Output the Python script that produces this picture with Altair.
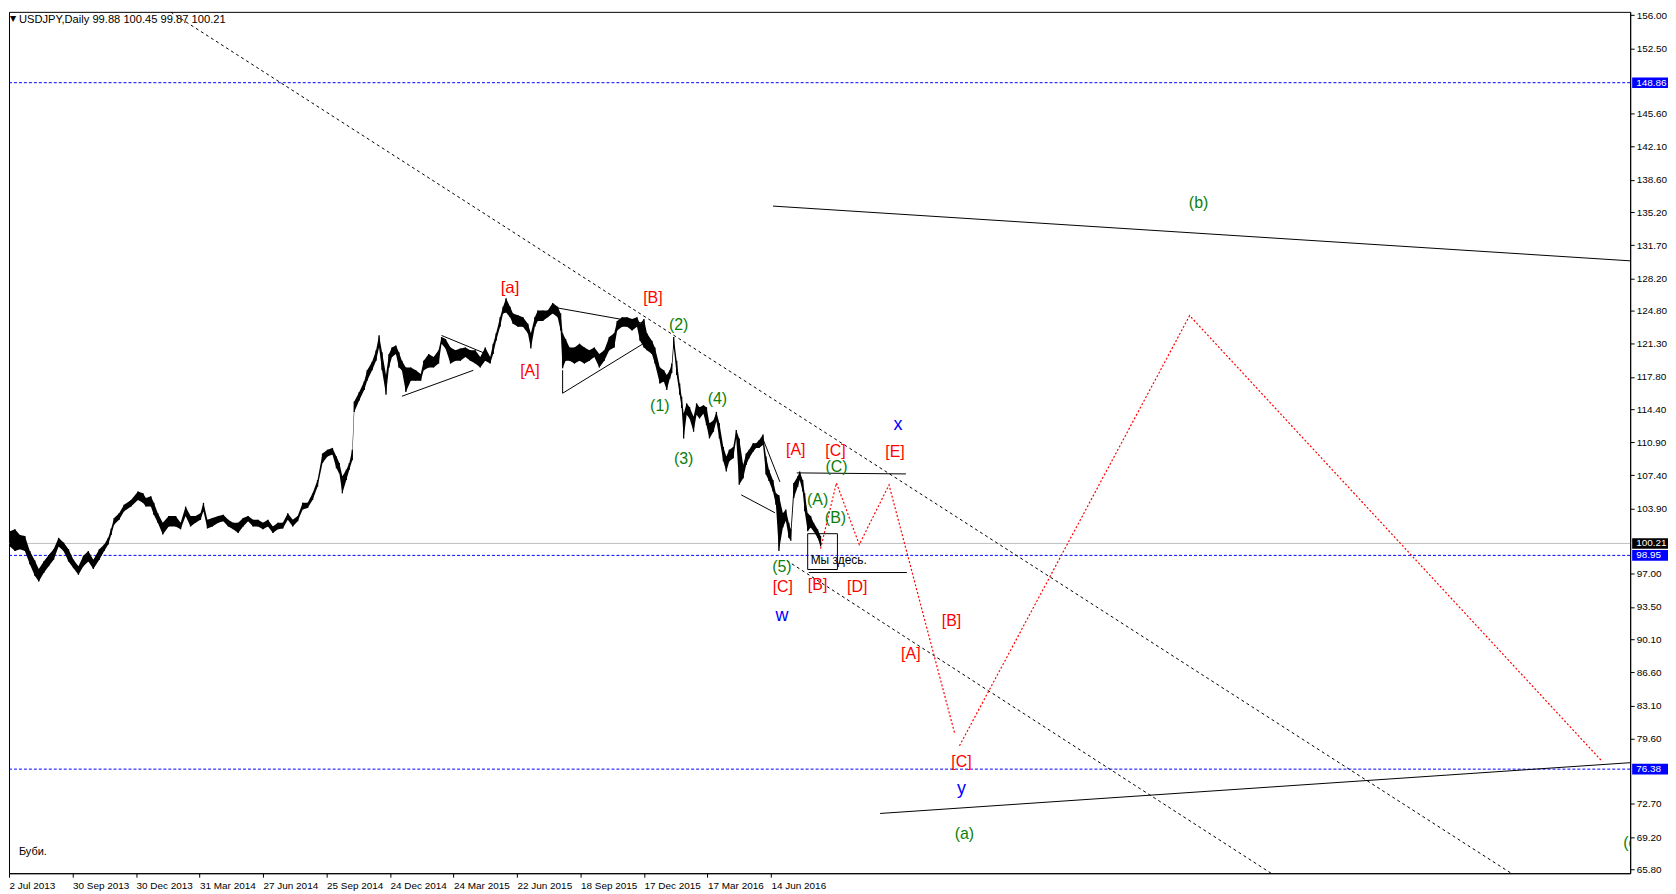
import altair as alt
import pandas as pd

# ---------------- price series (sampled daily bars: bar index, high, low) -------------
s1_idx = [1,6,11,16,21,26,30,35,40,45,50,55,60,65,70,75,80,85,91,96,100,103,106,111,116,123,130,135,138,143,
          146,150,155,161,168,173,178,183,188,193,196,200,205,211,216,221,226,231,236,241,246,251,256,261,266,
          271,276,281,286,291,296,301,306,311,316,321,326,330,333,336,340,343,346]
s1_hi = [101.5,101.7,101.1,101.0,99.4,98.4,97.5,98.3,99.0,99.6,100.8,100.3,99.6,98.5,97.8,98.9,99.4,98.5,99.6,100.1,
         100.8,101.8,102.9,103.4,104.3,104.8,105.7,105.5,105.0,105.2,104.5,103.4,102.4,103.1,103.1,102.4,104.1,103.1,103.1,103.4,
         104.5,102.7,102.9,103.1,103.25,102.7,102.4,102.4,102.9,103.1,102.7,102.7,102.4,102.7,102.0,102.4,102.4,103.4,102.7,103.1,
         104.5,104.5,105.5,106.9,109.7,110.1,110.3,109.4,108.7,107.3,108.0,108.7,110.1]
s1_lo = [99.9,99.4,99.6,99.4,98.0,96.8,96.2,97.1,97.8,98.5,99.9,99.4,98.3,97.6,96.9,97.8,98.3,97.5,98.5,99.4,
         100.1,101.1,102.2,102.7,103.6,104.1,104.8,104.5,104.1,104.1,103.25,102.4,101.15,102.0,102.0,101.7,103.1,102.0,102.4,102.7,
         103.6,101.8,102.0,102.4,102.55,102.0,101.7,101.3,102.0,102.55,102.0,102.0,101.7,102.0,101.3,101.7,101.8,102.7,102.0,102.55,
         103.8,103.95,104.8,106.2,108.7,109.4,109.6,108.15,107.6,105.5,106.9,108.0,109.0]

s2_idx = [348,353,358,361,366,370,373,376,380,383,386,390,393,396,400,405,410,415,418,423,
          428,433,436,440,445,450,455,460,465,470,475,480,485,488,491,495,498,501,505,508,
          513,518,523,526,530,533,538,543,548,553,556,558,561,565,570,575,580,585,590,595,
          600,605,610,613,618,623,628,633,636,640,643,648,651,656]
s2_hi = [115.2,116.2,117.3,118.5,119.4,120.6,122.2,120.4,118.0,120.2,120.9,121.1,120.4,119.5,118.8,118.8,118.5,118.1,119.5,120.2,
         119.9,120.6,122.0,121.8,120.9,120.6,120.8,120.9,120.6,120.6,119.9,120.9,119.9,121.3,122.4,124.1,125.2,126.1,125.2,124.5,
         124.3,124.1,123.4,122.4,124.1,124.8,124.8,124.8,125.6,125.2,124.5,122.4,121.8,120.9,120.9,121.3,120.9,120.6,120.9,120.2,
         120.6,122.0,122.4,123.7,124.1,124.1,123.9,124.1,123.4,123.9,122.4,121.6,120.9,118.8]
s2_lo = [114.1,115.3,116.4,117.4,118.5,119.5,120.9,118.5,115.9,118.8,119.9,120.2,118.8,118.5,116.2,117.4,117.4,117.4,118.5,118.8,
         118.8,119.2,121.3,120.8,119.2,119.5,119.5,119.9,119.5,119.2,118.8,119.5,119.2,120.2,121.6,123.1,124.5,124.6,124.1,123.4,
         123.1,123.1,122.4,120.8,123.1,123.7,123.7,124.1,124.5,124.1,122.7,118.7,119.5,119.5,119.2,119.5,119.2,119.5,119.9,118.8,
         119.5,120.6,120.9,122.7,123.1,123.1,122.7,123.1,121.6,120.9,120.6,120.2,119.2,117.1]

s3_idx = [660,663,666,668,670,673,676,678,680,683,686,690,693,696,700,703,706,710,713,716,
          720,723,726,730,733,736,740,743,746,750,753,756,760,763,766,770,773,776,780,783,
          786,788,791,795,797,800,802,805,808,811,815,818]
s3_hi = [118.5,118.0,118.5,119.2,122.0,119.5,117.1,115.7,113.9,115.0,114.6,113.6,115.0,114.6,114.8,114.6,112.9,113.2,114.1,112.9,
         110.4,109.4,110.1,110.4,112.2,111.3,108.5,109.7,110.1,110.8,110.8,111.1,111.7,109.4,108.0,106.9,105.5,105.3,103.4,103.8,
         102.4,101.7,106.6,107.3,107.8,106.9,105.5,103.4,103.1,102.4,101.7,101.0]
s3_lo = [117.3,116.4,117.6,118.2,120.9,118.0,115.9,114.5,111.3,113.8,113.4,112.0,113.8,113.4,113.9,112.7,111.3,112.0,113.1,111.3,
         108.9,107.8,108.9,109.2,111.3,106.4,107.1,108.5,109.2,109.9,110.3,110.3,110.6,107.5,106.8,105.7,104.3,99.4,101.9,102.6,
         100.8,100.5,105.0,106.2,106.9,105.7,103.6,101.5,101.9,101.5,100.8,99.9]

# ---------------- axes ----------------
x_tick_pos = [0, 64, 128, 192, 256, 320, 384, 448, 512, 576, 640, 704, 768]
x_tick_labels = ["2 Jul 2013", "30 Sep 2013", "30 Dec 2013", "31 Mar 2014", "27 Jun 2014", "25 Sep 2014",
                 "24 Dec 2014", "24 Mar 2015", "22 Jun 2015", "18 Sep 2015", "17 Dec 2015", "17 Mar 2016", "14 Jun 2016"]
y_ticks = [156.00, 152.50, 145.60, 142.10, 138.60, 135.20, 131.70, 128.20, 124.80, 121.30, 117.80, 114.40,
           110.90, 107.40, 103.90, 97.00, 93.50, 90.10, 86.60, 83.10, 79.60, 72.70, 69.20, 65.80]

# horizontal levels
blue_levels = [148.86, 98.95, 76.38]
bid_level = [100.21]
hl_vals = [148.86, 100.21, 98.95, 76.38]
hl_bg = ["#0000ff", "#000000", "#0000ff", "#0000ff"]

# ---------------- drawn lines (bar index, price) ----------------
dotted_lines = {
    "chan_top": ([158, 1514], [156.65, 65.39]),
    "chan_low": ([784, 1272], [98.40, 65.39]),
}
solid_lines = {
    "b_line": ([770, 1634], [135.83, 130.05]),
    "a_line": ([878, 1634], [71.70, 77.06]),
    "x_top": ([794, 904], [107.66, 107.55]),
    "x_bot": ([806, 905], [97.14, 97.14]),
    "t1_low": ([396, 468], [115.75, 118.49]),
    "t1_up": ([436, 480], [122.17, 120.27]),
    "t2_up": ([551, 641], [125.11, 123.43]),
    "t2_low": ([558, 558, 638], [118.5, 116.07, 121.22]),
    "t3_up": ([760, 777], [111.23, 106.71]),
    "t3_low": ([738, 772], [105.34, 103.45]),
}
red_lines = {
    "z1": ([818, 834, 857, 887, 953], [99.67, 106.60, 100.09, 106.39, 80.22]),
    "z2": ([958, 1190, 1606], [78.85, 124.27, 77.17]),
}
blue_small = {"b4": ([694, 705], [114.49, 114.17])}

box_idx = [805, 835]
box_p = [97.46, 101.24]

# ---------------- wave labels ----------------
lab_text = ["[a]", "[A]", "[B]", "(2)", "(1)", "(4)", "(3)", "[A]", "[C]", "(C)", "x", "[E]", "(A)", "(B)",
            "(5)", "[C]", "[B]", "[D]", "w", "[B]", "[A]", "[C]", "y", "(a)", "(b)"]
lab_idx = [505, 525, 649, 675, 656, 714, 680, 793, 833, 834, 896, 893, 815, 833,
           779, 780, 815, 855, 779, 950, 909, 960, 960, 963, 1199]
lab_p = [127.21, 118.38, 126.16, 123.32, 114.70, 115.44, 109.13, 110.07, 109.97, 108.29, 112.70, 109.86, 104.82, 102.93,
         97.77, 95.57, 95.78, 95.57, 92.55, 91.99, 88.52, 77.17, 74.30, 69.49, 136.15]
lab_col = ["red", "red", "red", "green", "green", "green", "green", "red", "red", "green", "blue", "red", "green", "green",
           "green", "red", "red", "red", "blue", "red", "red", "red", "blue", "green", "green"]
col_map = {"red": "#ff0000", "green": "#0a800a", "blue": "#0000ff"}

title_text = "USDJPY,Daily  99.88 100.45 99.87 100.21"

# ---------------- build frames ----------------
series = pd.DataFrame({"idx": s1_idx + s2_idx + s3_idx,
                       "hi": s1_hi + s2_hi + s3_hi,
                       "lo": s1_lo + s2_lo + s3_lo})


def lines_frame(d):
    rows = []
    for k, (xs_, ps_) in d.items():
        for o, (a, b) in enumerate(zip(xs_, ps_)):
            rows.append({"seg": k, "ord": o, "idx": a, "p": b})
    return pd.DataFrame(rows)


labels = pd.DataFrame({"t": lab_text, "idx": lab_idx, "p": lab_p,
                       "c": [col_map[c] for c in lab_col]})
labels["fs"] = [18 if t in ("x", "w", "y") else (17 if t == "[a]" else 16) for t in lab_text]

xs = alt.Scale(domain=[0, 1634], nice=False, zero=False)
ys = alt.Scale(domain=[65.39, 156.34], nice=False, zero=False)

x_label_expr = "[" + ",".join("'%s'" % t for t in x_tick_labels) + "][round(datum.value/64)]"
FONT = "Liberation Sans"
xaxis = alt.Axis(values=x_tick_pos, labelExpr=x_label_expr, labelAlign="left", labelBaseline="top",
                 labelPadding=3, tickSize=4, tickColor="black", domainColor="black", labelColor="black",
                 labelFont=FONT, labelFontSize=10, grid=False, title=None, labelOverlap=False,
                 labelFlush=False, labelBound=False)
yaxis = alt.Axis(orient="right", values=y_ticks, labelExpr="format(datum.value, '.2f')", labelAlign="left",
                 labelBaseline="middle", labelPadding=2, tickSize=4, tickColor="black", domainColor="black",
                 labelColor="black", labelFont=FONT, labelFontSize=10, grid=False, title=None,
                 labelOverlap=False, labelFlush=False, labelBound=False)

X = alt.X("idx:Q", scale=xs, axis=xaxis)


def Y(f):
    return alt.Y(f, scale=ys, axis=yaxis)


layers = []

# level lines
layers.append(alt.Chart(pd.DataFrame({"p": blue_levels})).mark_rule(
    color="#0000ff", strokeDash=[3, 2], strokeWidth=1).encode(y=Y("p:Q")))
layers.append(alt.Chart(pd.DataFrame({"p": bid_level})).mark_rule(
    color="#c0c0c0", strokeWidth=1).encode(y=Y("p:Q")))

# drawn lines
layers.append(alt.Chart(lines_frame(dotted_lines)).mark_line(
    color="black", strokeDash=[3, 3], strokeWidth=1, clip=True).encode(
    x=X, y=Y("p:Q"), detail="seg:N", order="ord:Q"))
layers.append(alt.Chart(lines_frame(solid_lines)).mark_line(
    color="black", strokeWidth=1, clip=True).encode(
    x=X, y=Y("p:Q"), detail="seg:N", order="ord:Q"))
layers.append(alt.Chart(lines_frame(red_lines)).mark_line(
    color="#ff0000", strokeDash=[2, 2], strokeWidth=1.2, clip=True).encode(
    x=X, y=Y("p:Q"), detail="seg:N", order="ord:Q"))
layers.append(alt.Chart(lines_frame(blue_small)).mark_line(
    color="#0000ff", strokeDash=[2, 2], strokeWidth=1, clip=True).encode(
    x=X, y=Y("p:Q"), detail="seg:N", order="ord:Q"))

# price bars
layers.append(alt.Chart(series).mark_area(color="black", opacity=1, interpolate="linear").encode(
    x=X, y=Y("lo:Q"), y2="hi:Q"))
layers.append(alt.Chart(series).mark_rule(color="black", strokeWidth=1.3).encode(
    x=X, y=Y("lo:Q"), y2="hi:Q"))

# "we are here" box
layers.append(alt.Chart(pd.DataFrame({"i0": [box_idx[0]], "i1": [box_idx[1]], "p0": [box_p[0]], "p1": [box_p[1]]}))
              .mark_rect(fillOpacity=0, stroke="black", strokeWidth=1)
              .encode(x=alt.X("i0:Q", scale=xs, axis=xaxis), x2="i1:Q", y=Y("p0:Q"), y2="p1:Q"))
layers.append(alt.Chart(pd.DataFrame({"t": ["Мы здесь."], "idx": [808], "p": [98.51]})).mark_text(
    align="left", baseline="middle", font=FONT, fontSize=12, color="#000000").encode(
    x=X, y=Y("p:Q"), text="t:N"))

# wave labels
layers.append(alt.Chart(labels).mark_text(align="center", baseline="middle", font=FONT).encode(
    x=X, y=Y("p:Q"), text="t:N", color=alt.Color("c:N", scale=None),
    size=alt.Size("fs:Q", scale=None)))
layers.append(alt.Chart(pd.DataFrame({"t": ["(c)"], "idx": [1627], "p": [68.54]})).mark_text(
    align="left", baseline="middle", font=FONT, fontSize=16, color="#0a800a", clip=True).encode(
    x=X, y=Y("p:Q"), text="t:N"))

# signature and title
layers.append(alt.Chart(pd.DataFrame({"t": ["Буби."], "idx": [10], "p": [67.6]})).mark_text(
    align="left", baseline="middle", font=FONT, fontSize=11, color="#000000").encode(
    x=X, y=Y("p:Q"), text="t:N"))
layers.append(alt.Chart(pd.DataFrame({"t": ["▼"]})).mark_text(
    align="left", baseline="top", font="DejaVu Sans", fontSize=8, color="#000000").encode(
    x=alt.value(1), y=alt.value(3), text="t:N"))
layers.append(alt.Chart(pd.DataFrame({"t": [title_text]})).mark_text(
    align="left", baseline="top", font=FONT, fontSize=11.2, color="#000000").encode(
    x=alt.value(10), y=alt.value(2), text="t:N"))

# highlighted price labels on the axis
hl = pd.DataFrame({"p": hl_vals, "bg": hl_bg, "t": ["%.2f" % v for v in hl_vals]})
layers.append(alt.Chart(hl).transform_calculate(top="datum.p + 0.56", bot="datum.p - 0.56").mark_rect().encode(
    x=alt.value(1630), x2=alt.value(1666), y=Y("top:Q"), y2="bot:Q", color=alt.Color("bg:N", scale=None)))
layers.append(alt.Chart(hl).mark_text(align="left", baseline="middle", font=FONT, fontSize=10, color="white").encode(
    x=alt.value(1634), y=Y("p:Q"), text="t:N"))

chart = alt.layer(*layers).properties(width=1628, height=865, padding=0, background="white").configure_view(
    stroke="black", strokeWidth=1).configure_axis(domainWidth=1, tickWidth=1)

chart.save("out.html", embed_options={"renderer": "svg", "actions": False})
